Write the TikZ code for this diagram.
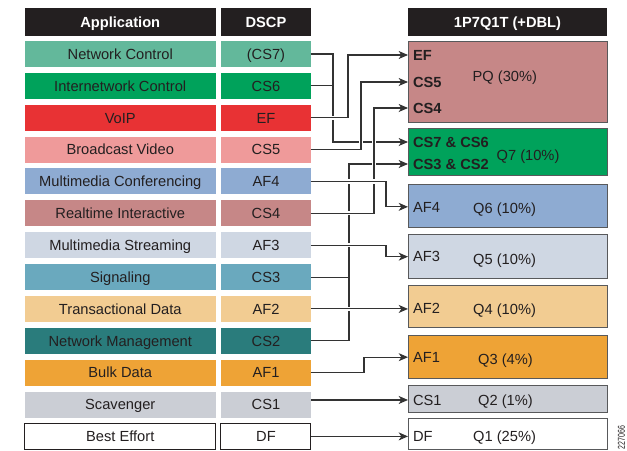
\documentclass[tikz,border=0pt]{standalone}
\usepackage{fontspec}
\setmainfont{Liberation Sans}
\usepackage{tikz}
\usetikzlibrary{arrows.meta,positioning}
\definecolor{ink}{HTML}{231F20}
\definecolor{edge}{HTML}{58595B}
\definecolor{netctl}{HTML}{63B89B}
\definecolor{inetctl}{HTML}{00A25B}
\definecolor{voip}{HTML}{E83234}
\definecolor{bcast}{HTML}{EF9A9A}
\definecolor{mmconf}{HTML}{8EABD2}
\definecolor{rtint}{HTML}{C68787}
\definecolor{mmstream}{HTML}{CFD7E3}
\definecolor{signal}{HTML}{6AA9BE}
\definecolor{trans}{HTML}{F2CC92}
\definecolor{netmgmt}{HTML}{2A7C7C}
\definecolor{bulk}{HTML}{EEA336}
\definecolor{scav}{HTML}{CBCED5}

\begin{document}
\begin{tikzpicture}[x=0.75pt,y=-0.75pt,>={Stealth[length=7pt,width=6pt,inset=2pt]}]
  \tikzstyle{cell}=[rectangle,inner sep=0pt,outer sep=0pt,text=ink,text height=7.9pt,text depth=0pt,
                    font=\fontsize{11}{13}\selectfont]
  \tikzstyle{app}=[cell,minimum width=143.6pt,minimum height=19.5pt]
  \tikzstyle{dscp}=[cell,minimum width=67.5pt,minimum height=19.5pt]
  \tikzstyle{head}=[cell,fill=ink,text=white,font=\fontsize{11}{13}\selectfont\bfseries,minimum height=21pt]
  \tikzstyle{queue}=[cell,draw=edge,line width=0.75pt,minimum width=149.25pt]
  \tikzstyle{tag}=[cell,anchor=west]
  \tikzstyle{btag}=[tag,font=\fontsize{11}{13}\selectfont\bfseries]
  \tikzstyle{stub}=[draw=black!80,line width=0.8pt]
  \tikzstyle{link}=[stub,preaction={draw=white,line width=3.2pt}]
  \useasboundingbox (0,0) rectangle (627,450);

  \node [head,minimum width=143.6pt] (ha) at (120.25,22) {Application};
  \node [head,minimum width=67.5pt] (hd) [right=3.75pt of ha] {DSCP};
  \node [app,fill=netctl] (a1) [below=3.75pt of ha] {Network Control};
  \node [app,fill=inetctl] (a2) [below=4.4pt of a1] {Internetwork Control};
  \node [app,fill=voip] (a3) [below=4.4pt of a2] {VoIP};
  \node [app,fill=bcast] (a4) [below=4.4pt of a3] {Broadcast Video};
  \node [app,fill=mmconf] (a5) [below=4.4pt of a4] {Multimedia Conferencing};
  \node [app,fill=rtint] (a6) [below=4.4pt of a5] {Realtime Interactive};
  \node [app,fill=mmstream] (a7) [below=4.4pt of a6] {Multimedia Streaming};
  \node [app,fill=signal] (a8) [below=4.4pt of a7] {Signaling};
  \node [app,fill=trans] (a9) [below=4.4pt of a8] {Transactional Data};
  \node [app,fill=netmgmt] (a10) [below=4.4pt of a9] {Network Management};
  \node [app,fill=bulk] (a11) [below=4.4pt of a10] {Bulk Data};
  \node [app,fill=scav] (a12) [below=4.4pt of a11] {Scavenger};
  \node [app,draw=ink,line width=0.75pt] (a13) [below=4.4pt of a12] {Best Effort};
  \node [dscp,fill=netctl] (d1) [right=3.75pt of a1] {(CS7)};
  \node [dscp,fill=inetctl] (d2) [right=3.75pt of a2] {CS6};
  \node [dscp,fill=voip] (d3) [right=3.75pt of a3] {EF};
  \node [dscp,fill=bcast] (d4) [right=3.75pt of a4] {CS5};
  \node [dscp,fill=mmconf] (d5) [right=3.75pt of a5] {AF4};
  \node [dscp,fill=rtint] (d6) [right=3.75pt of a6] {CS4};
  \node [dscp,fill=mmstream] (d7) [right=3.75pt of a7] {AF3};
  \node [dscp,fill=signal] (d8) [right=3.75pt of a8] {CS3};
  \node [dscp,fill=trans] (d9) [right=3.75pt of a9] {AF2};
  \node [dscp,fill=netmgmt] (d10) [right=3.75pt of a10] {CS2};
  \node [dscp,fill=bulk] (d11) [right=3.75pt of a11] {AF1};
  \node [dscp,fill=scav] (d12) [right=3.75pt of a12] {CS1};
  \node [dscp,draw=ink,line width=0.75pt] (d13) [right=3.75pt of a13] {DF};

  \node [head,minimum width=149.25pt] (hq) at (507.5,22) {1P7Q1T (+DBL)};
  \node [queue,fill=rtint,minimum height=60.75pt] (pq) [below=3.75pt of hq] {};
  \node [queue,fill=inetctl,minimum height=35.25pt] (q7) [below=4.5pt of pq] {};
  \node [queue,fill=mmconf,minimum height=32.25pt] (q6) [below=6.75pt of q7] {};
  \node [queue,fill=mmstream,minimum height=33pt] (q5) [below=5.25pt of q6] {};
  \node [queue,fill=trans,minimum height=31.5pt] (q4) [below=5.25pt of q5] {};
  \node [queue,fill=bulk,minimum height=32.25pt] (q3) [below=6pt of q4] {};
  \node [queue,fill=scav,minimum height=20.25pt] (q2) [below=5.25pt of q3] {};
  \node [queue,fill=white,minimum height=23.25pt] (q1) [below=4.5pt of q2] {};

  \node [cell] at ([xshift=-2pt,yshift=4pt]pq.center) {PQ (30\%)};
  \node [cell] at ([xshift=15.4pt,yshift=-2.6pt]q7.center) {Q7 (10\%)};
  \node [cell] at ([xshift=-2.2pt,yshift=-1.9pt]q6.center) {Q6 (10\%)};
  \node [cell] at ([xshift=-2.2pt,yshift=-2.2pt]q5.center) {Q5 (10\%)};
  \node [cell] at ([xshift=-2.2pt,yshift=-2.2pt]q4.center) {Q4 (10\%)};
  \node [cell] at ([xshift=-1.5pt,yshift=-1.9pt]q3.center) {Q3 (4\%)};
  \node [cell] at ([xshift=-1.5pt,yshift=-1.1pt]q2.center) {Q2 (1\%)};
  \node [cell] at ([xshift=-2.2pt,yshift=-1.9pt]q1.center) {Q1 (25\%)};

  \node [btag] (ef) at ([xshift=3.75pt,yshift=-10.5pt]pq.north west) {EF};
  \node [btag] (cs5) at ([xshift=3.75pt,yshift=-30.75pt]pq.north west) {CS5};
  \node [btag] (cs4) at ([xshift=3.75pt,yshift=-50.25pt]pq.north west) {CS4};
  \node [btag] (c76) at ([xshift=3.75pt,yshift=-10.5pt]q7.north west) {CS7 \& CS6};
  \node [btag] (c32) at ([xshift=3.75pt,yshift=-27pt]q7.north west) {CS3 \& CS2};
  \node [tag] (af4) at ([xshift=3.75pt,yshift=-1pt]q6.west) {AF4};
  \node [tag] (af3) at ([xshift=3.75pt,yshift=-0.5pt]q5.west) {AF3};
  \node [tag] (af2) at ([xshift=3.75pt,yshift=-2pt]q4.west) {AF2};
  \node [tag] (af1) at ([xshift=3.75pt,yshift=-0.5pt]q3.west) {AF1};
  \node [tag] (cs1) at ([xshift=3.75pt,yshift=-1.1pt]q2.west) {CS1};
  \node [tag] (df) at ([xshift=3.75pt,yshift=-1.9pt]q1.west) {DF};

  \node [text=ink,rotate=90] (fig) at (621.5,437.5) {\scalebox{0.7}[1]{\fontsize{7.5}{8}\selectfont 227066}};

  \draw [link,->] (d1.east) -- ++(22,0) |- (q7.west |- c76);
  \draw [stub] (d2.east) -- ++(22,0);
  \draw [link,->] (d10.east) -- ++(38,0) |- (q7.west |- c32);
  \draw [stub] (d8.east) -- ++(38,0);
  \draw [link,->] (d3.east) -- ++(37,0) |- (pq.west |- ef);
  \draw [link,->] (d4.east) -- ++(50,0) |- (pq.west |- cs5);
  \draw [link,->] (d6.east) -- ++(63,0) |- (pq.west |- cs4);
  \draw [link,->] (d5.east) -- ++(75,0) |- (q6.west |- af4);
  \draw [link,->] (d7.east) -- ++(75,0) |- (q5.west |- af3);
  \draw [link,->] (d9.east) -- (q4.west |- d9.east);
  \draw [link,->] (d11.east) -- ++(53,0) |- (q3.west |- af1);
  \draw [link,->] (d12.east |- cs1) -- (q2.west |- cs1);
  \draw [link,->] (d13.east) -- (q1.west |- d13.east);
\end{tikzpicture}
\end{document}
